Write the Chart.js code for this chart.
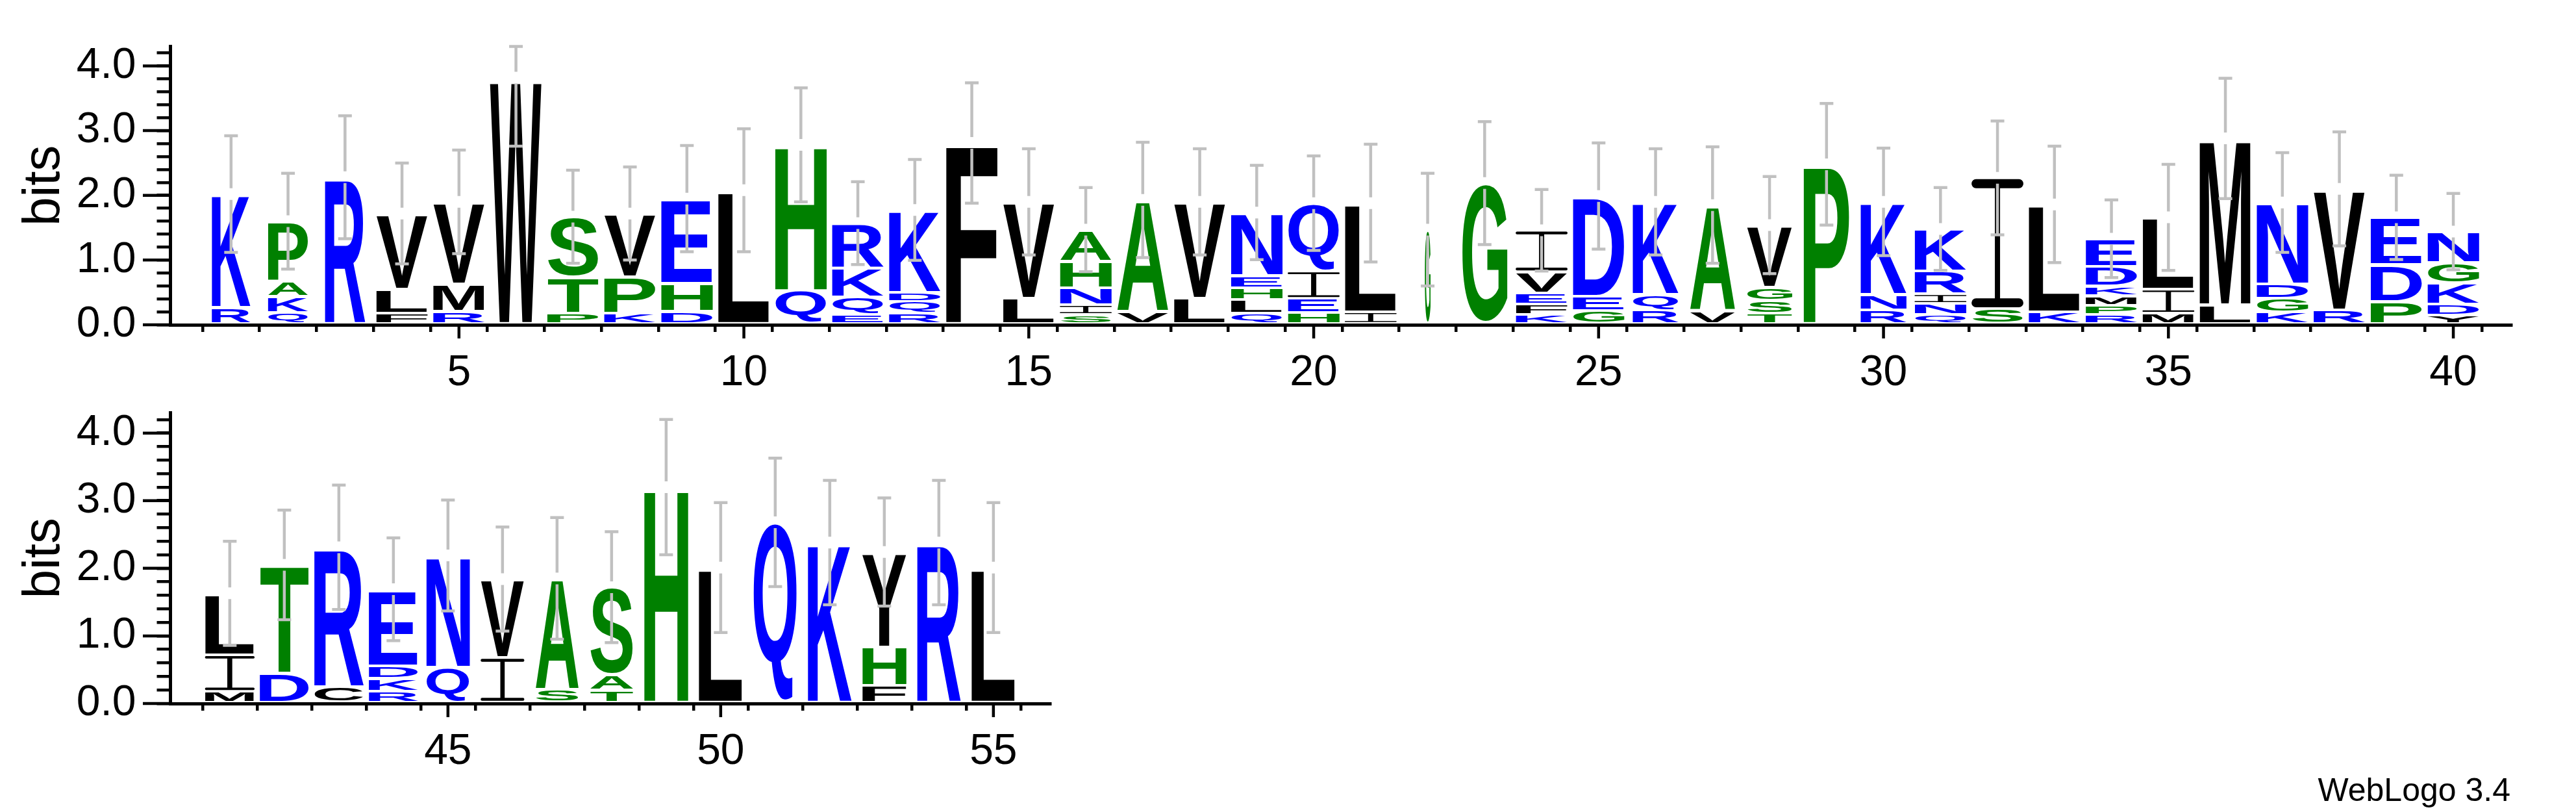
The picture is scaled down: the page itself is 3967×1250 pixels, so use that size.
<!DOCTYPE html>
<html lang="en">
<head>
<meta charset="UTF-8">
<title>WebLogo</title>
<script src="https://cdn.jsdelivr.net/npm/chart.js"></script>
<style>
    html, body { margin: 0; padding: 0; background: #fff; }
    body { width: 3967px; height: 1250px; position: relative; overflow: hidden; font-family: "Liberation Sans", Arial, sans-serif; }
    canvas { position: absolute; left: 0; }
    #row1 { top: 0; }
    #row2 { top: 540px; }
    .credit { position: absolute; right: 101px; top: 1191px; font-size: 50px; line-height: 1; color: #000; }
</style>
</head>
<body>
<canvas id="row1" width="3967" height="620"></canvas>
<canvas id="row2" width="3967" height="710"></canvas>
<div class="credit">WebLogo 3.4</div>
<script>
    const positions = [1, 2, 3, 4, 5, 6, 7, 8, 9, 10, 11, 12, 13, 14, 15, 16, 17, 18, 19, 20,
        21, 22, 23, 24, 25, 26, 27, 28, 29, 30, 31, 32, 33, 34, 35, 36, 37, 38, 39, 40,
        41, 42, 43, 44, 45, 46, 47, 48, 49, 50, 51, 52, 53, 54, 55];

    // letters of each stack, bottom to top
    const stacks = ['RK', 'QKAP', 'R', 'FLV', 'RMV', 'W', 'PTS', 'KPV', 'DHE', 'L',
        'QH', 'EQKR', 'RQDK', 'F', 'LV', 'SINHA', 'VA', 'LV', 'QLHEN', 'HEIQ',
        'IL', 'G', 'G', 'KFEVI', 'GED', 'RQK', 'VA', 'TSGV', 'P', 'RNK',
        'QNIRK', 'SI', 'KL', 'RPMKDE', 'MIL', 'LM', 'KGDN', 'RV', 'PDE', 'YDKGN',
        'MIL', 'DT', 'CR', 'RKDE', 'QN', 'IV', 'SA', 'TAS', 'H', 'L',
        'Q', 'K', 'FHY', 'R', 'L'];

    // information (bits) of each letter, same order
    const bits = [
        [0.27, 1.75], [0.19, 0.25, 0.23, 0.93], [2.28], [0.18, 0.37, 1.17], [0.21, 0.42, 1.27],
        [3.82], [0.18, 0.55, 0.94], [0.18, 0.56, 0.98], [0.21, 0.43, 1.31], [2.08],
        [0.53, 2.25], [0.16, 0.27, 0.45, 0.69], [0.18, 0.185, 0.14, 1.27], [2.81], [0.41, 1.49],
        [0.16, 0.15, 0.26, 0.41, 0.49], [0.21, 1.72], [0.41, 1.49], [0.18, 0.21, 0.185, 0.19, 0.97], [0.19, 0.22, 0.42, 1.05],
        [0.2, 1.68], [1.47], [2.19], [0.16, 0.16, 0.17, 0.33, 0.64], [0.22, 0.22, 1.55],
        [0.23, 0.24, 1.43], [0.22, 1.63], [0.18, 0.2, 0.2, 0.96], [2.48], [0.23, 0.24, 1.43],
        [0.16, 0.17, 0.15, 0.35, 0.65], [0.25, 2.02], [0.2, 1.66], [0.16, 0.14, 0.15, 0.15, 0.3, 0.43], [0.18, 0.37, 1.11],
        [0.31, 2.57], [0.2, 0.21, 0.22, 1.26], [0.23, 1.87], [0.36, 0.57, 0.73], [0.15, 0.17, 0.33, 0.31, 0.48],
        [0.18, 0.54, 0.91], [0.45, 1.6], [0.25, 2.06], [0.185, 0.185, 0.19, 1.13], [0.54, 1.65],
        [0.68, 1.16], [0.21, 1.64], [0.2, 0.22, 1.3], [3.2], [2.01],
        [2.68], [2.38], [0.27, 0.57, 1.4], [2.38], [2.01]
    ];

    // half height of the error bar, bits
    const errors = [0.90, 0.74, 0.95, 0.78, 0.80, 1.06, 0.72, 0.72, 0.82, 0.95,
        0.88, 0.64, 0.78, 0.93, 0.82, 0.65, 0.89, 0.82, 0.73, 0.73,
        0.91, 0.87, 0.95, 0.63, 0.82, 0.82, 0.90, 0.75, 0.94, 0.83,
        0.64, 0.88, 0.90, 0.60, 0.82, 0.93, 0.77, 0.88, 0.65, 0.59,
        0.77, 0.81, 0.92, 0.76, 0.82, 0.77, 0.90, 0.82, 1.00, 0.96,
        0.95, 0.92, 0.80, 0.92, 0.96];

    // fraction of non-gap symbols (stack width)
    const occupancy = [0.75, 0.78, 0.78, 1, 1, 1, 1, 1, 1, 1,
        1, 1, 1, 1, 1, 1, 1, 1, 1, 1,
        1, 0.11, 0.88, 1, 1, 0.89, 0.88, 0.88, 0.89, 0.89,
        1, 1, 1, 1, 1, 1, 1, 1, 1, 1,
        1, 1, 1, 1, 0.88, 0.88, 0.88, 0.88, 0.89, 0.89,
        0.89, 0.89, 0.89, 0.88, 0.89];

    const FONT = '"Liberation Sans", Arial, sans-serif';
    const BLUE = '#0000ff', GREEN = '#008000', BLACK = '#000000';
    const letterColor = {
        K: BLUE, R: BLUE, D: BLUE, E: BLUE, N: BLUE, Q: BLUE,
        P: GREEN, A: GREEN, S: GREEN, T: GREEN, G: GREEN, H: GREEN
    };

    // serif I, as WebLogo draws it
    function drawI(ctx, left, top, w, h) {
        const barH = Math.max(1.5, h * 0.07);
        const stemW = Math.max(1.5, w * 0.1);
        ctx.beginPath();
        ctx.roundRect(left, top, w, barH, barH / 2);
        ctx.roundRect(left, top + h - barH, w, barH, barH / 2);
        ctx.rect(left + w / 2 - stemW / 2, top + barH / 2, stemW, h - barH);
        ctx.fill();
    }

    function drawGlyph(ctx, ch, left, top, w, h) {
        if (w <= 0 || h <= 0) return;
        ctx.save();
        ctx.fillStyle = letterColor[ch] || BLACK;
        if (ch === 'I') {
            drawI(ctx, left, top, w, h);
            ctx.restore();
            return;
        }
        ctx.font = 'bold 300px ' + FONT;
        const m = ctx.measureText(ch);
        const gw = m.actualBoundingBoxLeft + m.actualBoundingBoxRight;
        const gh = m.actualBoundingBoxAscent + m.actualBoundingBoxDescent;
        ctx.translate(left, top);
        ctx.scale(w / gw, h / gh);
        ctx.textAlign = 'left';
        ctx.textBaseline = 'alphabetic';
        ctx.fillText(ch, m.actualBoundingBoxLeft, m.actualBoundingBoxAscent);
        ctx.restore();
    }

    function makeLogo(id, first, last, geo) {
        const idx = [];
        for (let k = first; k <= last; k++) idx.push(k);
        const layers = Math.max(...idx.map(k => stacks[k].length));

        const datasets = [];
        for (let i = 0; i < layers; i++) {
            datasets.push({
                data: idx.map(k => ({ x: positions[k], y: bits[k][i] || 0 })),
                backgroundColor: 'rgba(0,0,0,0)',
                borderWidth: 0,
                barPercentage: 0.91,
                categoryPercentage: 1
            });
        }

        const logoPlugin = {
            id: 'logo',
            afterDatasetsDraw(chart) {
                const ctx = chart.ctx;
                const xs = chart.scales.x, ys = chart.scales.y;
                // letters
                chart.data.datasets.forEach((ds, i) => {
                    const meta = chart.getDatasetMeta(i);
                    meta.data.forEach((el, j) => {
                        const k = idx[j];
                        const ch = stacks[k][i];
                        if (!ch) return;
                        const p = el.getProps(['x', 'y', 'base', 'width'], true);
                        const w = p.width * occupancy[k];
                        drawGlyph(ctx, ch, p.x - w / 2, p.y + 2, w, p.base - p.y - 4);
                    });
                });
                // error bars
                ctx.save();
                ctx.strokeStyle = '#c0c0c0';
                ctx.lineWidth = 4.5;
                idx.forEach(k => {
                    const total = bits[k].reduce((a, b) => a + b, 0);
                    const px = xs.getPixelForValue(positions[k]);
                    const top = ys.getPixelForValue(total);
                    const hi = ys.getPixelForValue(Math.min(total + errors[k], ys.max));
                    const lo = ys.getPixelForValue(total - errors[k]);
                    ctx.beginPath();
                    if (hi < top - 9) { ctx.moveTo(px, hi); ctx.lineTo(px, top - 9); }
                    if (lo > top + 9) { ctx.moveTo(px, top + 9); ctx.lineTo(px, lo); }
                    ctx.moveTo(px - 10.5, hi); ctx.lineTo(px + 10.5, hi);
                    ctx.moveTo(px - 10.5, lo); ctx.lineTo(px + 10.5, lo);
                    ctx.stroke();
                });
                ctx.restore();
            },
            afterDraw(chart) {
                // longer marks for the labelled ticks
                const ctx = chart.ctx, area = chart.chartArea;
                const xs = chart.scales.x, ys = chart.scales.y;
                ctx.save();
                ctx.strokeStyle = BLACK;
                ctx.lineWidth = 4.5;
                ctx.beginPath();
                ys.ticks.forEach(t => {
                    if (Math.abs(t.value - Math.round(t.value)) < 1e-6) {
                        const py = ys.getPixelForValue(t.value);
                        ctx.moveTo(area.left - 42.5, py); ctx.lineTo(area.left, py);
                    }
                });
                xs.ticks.forEach(t => {
                    if (t.value % 5 === 0) {
                        const px = xs.getPixelForValue(t.value);
                        ctx.moveTo(px, area.bottom); ctx.lineTo(px, area.bottom + 21);
                    }
                });
                ctx.stroke();
                ctx.restore();
            }
        };

        return new Chart(document.getElementById(id), {
            type: 'bar',
            data: { datasets: datasets },
            options: {
                responsive: false,
                animation: false,
                layout: { padding: { top: geo.top, right: geo.right, left: 0, bottom: 0 } },
                plugins: { legend: { display: false }, tooltip: { enabled: false } },
                scales: {
                    x: {
                        type: 'linear',
                        stacked: true,
                        min: positions[first] - 0.55,
                        max: positions[last] + 0.5,
                        afterBuildTicks: s => { s.ticks = idx.map(k => ({ value: positions[k] })); },
                        afterFit: s => { s.height = geo.axisH; },
                        grid: { drawOnChartArea: false, tickLength: 11, lineWidth: 4.5, color: BLACK },
                        border: { width: 5, color: BLACK },
                        ticks: {
                            autoSkip: false, maxRotation: 0, minRotation: 0, padding: 24,
                            color: BLACK, font: { size: 66, family: FONT },
                            callback: v => (v % 5 === 0 ? String(v) : '')
                        }
                    },
                    y: {
                        stacked: true,
                        min: 0,
                        max: 4.3,
                        afterFit: s => { s.width = 262.5; },
                        grid: { drawOnChartArea: false, tickLength: 21, lineWidth: 4.5, color: BLACK },
                        border: { width: 5, color: BLACK },
                        ticks: {
                            stepSize: 0.2, includeBounds: false, autoSkip: false, padding: 32,
                            color: BLACK, font: { size: 66, family: FONT },
                            callback: v => (Math.abs(v - Math.round(v)) < 1e-6 ? v.toFixed(1) : '')
                        },
                        title: {
                            display: true, text: 'bits', color: BLACK,
                            font: { size: 80, family: FONT },
                            padding: { top: 21, bottom: 0 }
                        }
                    }
                }
            },
            plugins: [logoPlugin]
        });
    }

    makeLogo('row1', 0, 39, { top: 51.7, right: 100, axisH: 120 });
    makeLogo('row2', 40, 54, { top: 95.4, right: 2350, axisH: 167 });
</script>
</body>
</html>
